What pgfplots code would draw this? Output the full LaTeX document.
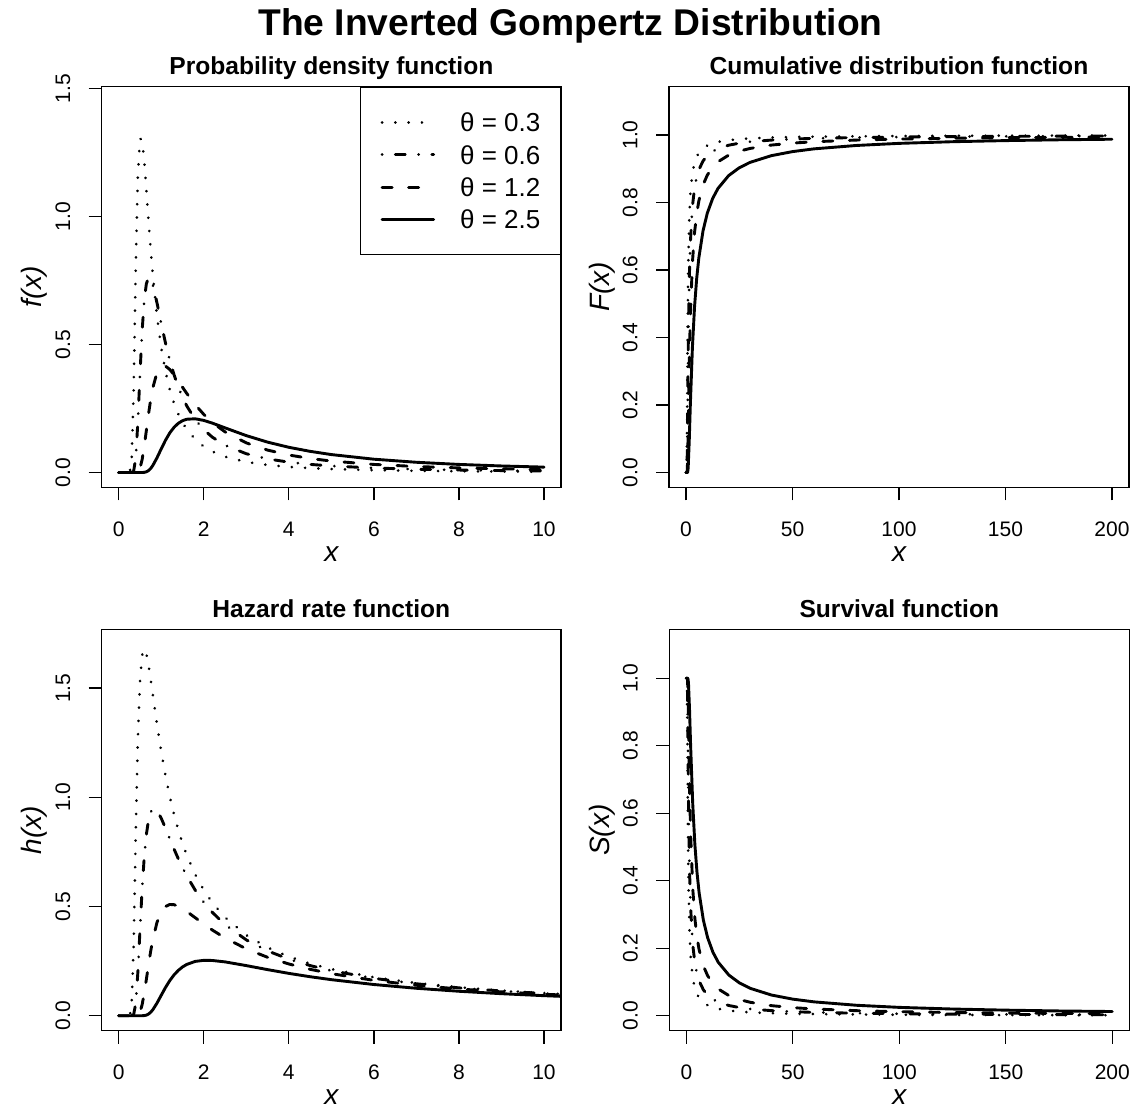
\documentclass[border=0pt]{standalone}
\usepackage{fontspec}
\setmainfont{Liberation Sans}
\usepackage{pgfplots}
\pgfplotsset{compat=1.18}
\usepackage{pgfplotstable}

\pgfplotstableread{
x    f03     f06     f12     f25
0    0       0       0       0
0.2  0       0       0       0
0.25 0.00003 0       0       0
0.3  0.0281  0.00002 0       0
0.35 0.3101  0.0045  0       0
0.4  0.7976  0.0557  0.0001  0
0.45 1.1583  0.1963  0.0028  0
0.5  1.3042  0.3837  0.0166  0
0.55 1.2991  0.5525  0.0500  0.0001
0.6  1.2165  0.6709  0.1020  0.0008
0.65 1.1039  0.7369  0.1642  0.0029
0.7  0.9862  0.7614  0.2269  0.0076
0.75 0.8751  0.7571  0.2833  0.0156
0.8  0.7751  0.7344  0.3296  0.0270
0.9  0.6105  0.6626  0.3902  0.0575
1.0  0.4870  0.5817  0.4149  0.0926
1.1  0.3945  0.5058  0.4157  0.1261
1.2  0.3245  0.4392  0.4025  0.1545
1.3  0.2707  0.3824  0.3818  0.1765
1.4  0.2287  0.3345  0.3579  0.1922
1.5  0.1954  0.2941  0.3331  0.2024
1.6  0.1687  0.2601  0.3090  0.2082
1.8  0.1291  0.2067  0.2647  0.2099
2.0  0.1018  0.1676  0.2271  0.2036
2.2  0.0822  0.1383  0.1958  0.1931
2.5  0.0618  0.1066  0.1588  0.1745
3.0  0.0413  0.0734  0.1158  0.1442
3.5  0.0295  0.0534  0.0877  0.1188
4.0  0.0221  0.0406  0.0685  0.0986
4.5  0.0172  0.0319  0.0549  0.0828
5    0.0137  0.0257  0.0449  0.0702
6    0.0093  0.0177  0.0317  0.0521
7    0.0067  0.0129  0.0235  0.0401
8    0.0051  0.0098  0.0181  0.0317
9    0.0040  0.0077  0.0144  0.0257
10   0.0032  0.0062  0.0117  0.0212
}\pdftab

\pgfplotstableread{
x    h03     h06     h12     h25
0    0       0       0       0
0.2  0       0       0       0
0.25 0.00003 0       0       0
0.3  0.0281  0.00002 0       0
0.35 0.3124  0.0045  0       0
0.4  0.8265  0.0558  0.0001  0
0.45 1.2655  0.1977  0.0028  0
0.5  1.5291  0.3922  0.0166  0
0.55 1.6499  0.5786  0.0501  0.0001
0.6  1.6797  0.7261  0.1026  0.0008
0.65 1.6570  0.8293  0.1663  0.0029
0.7  1.6063  0.8948  0.2321  0.0077
0.75 1.5422  0.9313  0.2935  0.0156
0.8  1.4728  0.9469  0.3471  0.0270
0.9  1.3348  0.9391  0.4272  0.0578
1.0  1.2091  0.9042  0.4754  0.0939
1.1  1.0991  0.8587  0.5002  0.1293
1.2  1.0041  0.8106  0.5094  0.1607
1.3  0.9222  0.7636  0.5085  0.1868
1.4  0.8513  0.7193  0.5013  0.2075
1.5  0.7897  0.6782  0.4904  0.2233
1.6  0.7358  0.6405  0.4774  0.2350
1.8  0.6464  0.5747  0.4487  0.2488
2.0  0.5756  0.5197  0.4198  0.2537
2.2  0.5182  0.4736  0.3926  0.2531
2.5  0.4504  0.4172  0.3561  0.2466
3.0  0.3692  0.3473  0.3063  0.2296
3.5  0.3125  0.2970  0.2676  0.2112
4.0  0.2707  0.2592  0.2371  0.1940
4.5  0.2387  0.2298  0.2127  0.1787
5    0.2134  0.2063  0.1927  0.1652
6    0.1761  0.1713  0.1620  0.1430
7    0.1498  0.1464  0.1396  0.1258
8    0.1303  0.1277  0.1226  0.1121
9    0.1153  0.1133  0.1093  0.1010
10   0.1034  0.1018  0.0986  0.0919
11   0.0938  0.0924  0.0898  0.0842
}\haztab

\pgfplotstableread{
x    F03     F06     F12     F25
0    0       0       0       0
0.25 0       0       0       0
0.5  0.1471  0.0216  0.0005  0
0.75 0.4325  0.1871  0.0350  0.0009
1    0.5972  0.3567  0.1272  0.0136
1.5  0.7525  0.5663  0.3207  0.0935
2    0.8232  0.6776  0.4591  0.1975
3    0.8881  0.7887  0.6221  0.3719
4    0.9183  0.8433  0.7112  0.4916
5    0.9357  0.8756  0.7667  0.5749
6    0.9470  0.8969  0.8044  0.6355
8    0.9608  0.9232  0.8523  0.7169
10   0.9689  0.9388  0.8814  0.7688
12.5 0.9753  0.9513  0.9049  0.8120
15   0.9795  0.9595  0.9206  0.8417
20   0.9847  0.9697  0.9403  0.8797
25   0.9878  0.9758  0.9522  0.9030
30   0.9899  0.9799  0.9601  0.9188
40   0.9924  0.9849  0.9701  0.9387
50   0.9940  0.9880  0.9760  0.9508
60   0.9950  0.9900  0.9800  0.9589
80   0.9962  0.9925  0.9850  0.9690
100  0.9970  0.9940  0.9880  0.9752
125  0.9976  0.9952  0.9904  0.9801
150  0.9980  0.9960  0.9920  0.9834
175  0.9983  0.9966  0.9931  0.9858
200  0.9985  0.9970  0.9940  0.9875
}\cdftab

\pgfplotstableread{
x    S03     S06     S12     S25
0    1       1       1       1
0.25 1       1       1       1
0.5  0.8529  0.9784  0.9995  1
0.75 0.5675  0.8129  0.9650  0.9991
1    0.4028  0.6433  0.8728  0.9864
1.5  0.2475  0.4337  0.6793  0.9065
2    0.1768  0.3224  0.5409  0.8025
3    0.1119  0.2113  0.3779  0.6281
4    0.0817  0.1567  0.2888  0.5084
5    0.0643  0.1244  0.2333  0.4251
6    0.0530  0.1031  0.1956  0.3645
8    0.0392  0.0768  0.1477  0.2831
10   0.0311  0.0612  0.1186  0.2312
12.5 0.0247  0.0487  0.0951  0.1880
15   0.0205  0.0405  0.0794  0.1583
20   0.0153  0.0303  0.0597  0.1203
25   0.0122  0.0242  0.0478  0.0970
30   0.0101  0.0201  0.0399  0.0812
40   0.0076  0.0151  0.0299  0.0613
50   0.0060  0.0120  0.0240  0.0492
60   0.0050  0.0100  0.0200  0.0411
80   0.0038  0.0075  0.0150  0.0310
100  0.0030  0.0060  0.0120  0.0248
125  0.0024  0.0048  0.0096  0.0199
150  0.0020  0.0040  0.0080  0.0166
175  0.0017  0.0034  0.0069  0.0142
200  0.0015  0.0030  0.0060  0.0125
}\survtab

\pgfplotsset{
  s03/.style={black, line width=1.45pt, line cap=round, line join=round, dash pattern=on 0.01pt off 6.64pt},
  s06/.style={black, line width=1.45pt, line cap=round, line join=round, dash pattern=on 0.01pt off 6.6pt on 5pt off 6.7pt},
  s12/.style={black, line width=1.45pt, line cap=round, line join=round, dash pattern=on 5pt off 8.3pt},
  s25/.style={black, line width=1.45pt, line cap=round, line join=round, solid},
  rbase/.style={
    scale only axis, height=200.5pt,
    axis line style={line width=0.65pt},
    tick align=outside, xtick pos=left, ytick pos=left,
    major tick length=6.5pt,
    every tick/.style={black, line width=0.65pt},
    tick label style={font=\fontsize{10.5}{12}\selectfont},
    /pgf/number format/assume math mode=true,
    scaled ticks=false,
    xticklabel style={anchor=base}, xticklabel shift=18pt,
    yticklabel style={rotate=90, anchor=base}, yticklabel shift=9.35pt,
    every axis title/.style={at={(0.5,1)}, anchor=base, yshift=6pt, font=\bfseries\fontsize{12.3}{14}\selectfont},
    every axis x label/.style={at={(axis description cs:0.5,0)}, anchor=base, inner sep=0pt, yshift=-37pt, font=\itshape\fontsize{14}{16}\selectfont},
    every axis y label/.style={at={(axis description cs:0,0.5)}, xshift=-30pt, rotate=90, anchor=base, inner sep=0pt, font=\itshape\fontsize{14}{16}\selectfont},
  },
}

\begin{document}
\begin{tikzpicture}
\useasboundingbox (0,0) rectangle (570.5pt,554.5pt);
\node[anchor=base, inner sep=0pt, font=\bfseries\fontsize{18.6}{22}\selectfont] at (285.25pt,536.6pt) {The Inverted Gompertz Distribution};

% PDF
\begin{axis}[rbase, at={(50.85pt,310.8pt)}, anchor=south west, width=229.65pt,
  xmin=-0.4, xmax=10.4, ymin=-0.058, ymax=1.508,
  xtick={0,2,4,6,8,10}, ytick={0,0.5,1,1.5}, yticklabels={0.0,0.5,1.0,1.5},
  title={Probability density function}, xlabel={x}, ylabel={f(x)},
  legend style={at={(1,1)}, anchor=north east, draw=black, line width=0.65pt, fill=white,
    inner xsep=10pt, inner ysep=13pt, row sep=6.9pt, column sep=12.5pt,
    font=\fontsize{13}{15}\selectfont, nodes={inner sep=0pt, text height=9.3pt, text depth=0pt}},
  legend cell align=left,
  legend image code/.code={\draw[#1] (0pt,0pt) -- (25.8pt,0pt);},
]
\addplot[s03] table[x=x,y=f03]{\pdftab};
\addplot[s06] table[x=x,y=f06]{\pdftab};
\addplot[s12] table[x=x,y=f12]{\pdftab};
\addplot[s25] table[x=x,y=f25]{\pdftab};
\legend{θ = 0.3, θ = 0.6, θ = 1.2, θ = 2.5}
\end{axis}

% CDF
\begin{axis}[rbase, at={(334.5pt,310.8pt)}, anchor=south west, width=230pt,
  xmin=-8, xmax=208, ymin=-0.044, ymax=1.144,
  xtick={0,50,100,150,200}, ytick={0,0.2,0.4,0.6,0.8,1}, yticklabels={0.0,0.2,0.4,0.6,0.8,1.0},
  title={Cumulative distribution function}, xlabel={x}, ylabel={F(x)},
]
\addplot[s03] table[x=x,y=F03]{\cdftab};
\addplot[s06] table[x=x,y=F06]{\cdftab};
\addplot[s12] table[x=x,y=F12]{\cdftab};
\addplot[s25] table[x=x,y=F25]{\cdftab};
\end{axis}

% Hazard
\begin{axis}[rbase, at={(50.85pt,39.2pt)}, anchor=south west, width=229.65pt,
  xmin=-0.4, xmax=10.4, ymin=-0.068, ymax=1.768,
  xtick={0,2,4,6,8,10}, ytick={0,0.5,1,1.5}, yticklabels={0.0,0.5,1.0,1.5},
  title={Hazard rate function}, xlabel={x}, ylabel={h(x)},
]
\addplot[s03] table[x=x,y=h03]{\haztab};
\addplot[s06] table[x=x,y=h06]{\haztab};
\addplot[s12] table[x=x,y=h12]{\haztab};
\addplot[s25] table[x=x,y=h25]{\haztab};
\end{axis}

% Survival
\begin{axis}[rbase, at={(334.65pt,39.2pt)}, anchor=south west, width=230pt,
  xmin=-8, xmax=208, ymin=-0.044, ymax=1.144,
  xtick={0,50,100,150,200}, ytick={0,0.2,0.4,0.6,0.8,1}, yticklabels={0.0,0.2,0.4,0.6,0.8,1.0},
  title={Survival function}, xlabel={x}, ylabel={S(x)},
]
\addplot[s03] table[x=x,y=S03]{\survtab};
\addplot[s06] table[x=x,y=S06]{\survtab};
\addplot[s12] table[x=x,y=S12]{\survtab};
\addplot[s25] table[x=x,y=S25]{\survtab};
\end{axis}
\end{tikzpicture}
\end{document}
